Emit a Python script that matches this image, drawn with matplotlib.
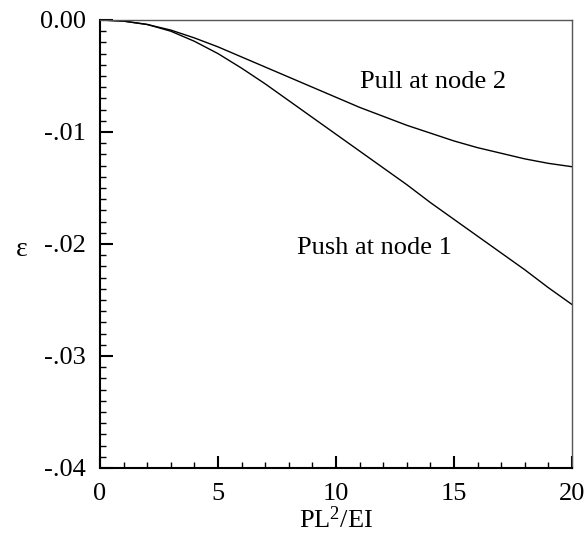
#!/usr/bin/env python3
# strain vs. load parameter for the two loading cases

import matplotlib.pyplot as plt
from matplotlib.ticker import MultipleLocator, FixedLocator

plt.rcParams['font.family'] = ['Liberation Serif', 'DejaVu Serif']
plt.rcParams['mathtext.fontset'] = 'custom'
plt.rcParams['mathtext.rm'] = 'Liberation Serif'
plt.rcParams['mathtext.default'] = 'regular'

load = [0, 1, 2, 3, 4, 5, 6, 7, 8, 9, 10, 11, 12, 13, 14, 15, 16, 17, 18, 19, 20]
pull_node2 = [0, -0.0001, -0.0004, -0.0009, -0.0016, -0.0024, -0.0033, -0.0042,
              -0.0051, -0.0060, -0.0069, -0.0078, -0.0086, -0.0094, -0.0101,
              -0.0108, -0.0114, -0.0119, -0.0124, -0.0128, -0.0131]
push_node1 = [0, -0.0001, -0.0004, -0.0010, -0.0019, -0.0030, -0.0043, -0.0057,
              -0.0072, -0.0087, -0.0102, -0.0117, -0.0132, -0.0147, -0.0163,
              -0.0178, -0.0193, -0.0208, -0.0223, -0.0239, -0.0254]

yticks = [0.0, -0.01, -0.02, -0.03, -0.04]
ytick_labels = ['0.00', '-.01', '-.02', '-.03', '-.04']

FS = 19

fig = plt.figure(figsize=(5.86, 5.46), dpi=100)
ax = fig.add_axes([0.1706, 0.1429, 0.8054, 0.8205])

ax.plot(load, pull_node2, color='black', lw=1.0)
ax.plot(load, push_node1, color='black', lw=1.0)

ax.text(14.1, -0.0055, 'Pull at node 2', fontsize=FS, ha='center', va='center')
ax.text(11.65, -0.0204, 'Push at node 1', fontsize=FS, ha='center', va='center')

ax.set_xlim(0, 20)
ax.set_ylim(-0.04, 0)
ax.set_xticks([0, 5, 10, 15, 20])
ax.xaxis.set_minor_locator(MultipleLocator(1))
ax.yaxis.set_major_locator(FixedLocator(yticks))
ax.set_yticklabels(ytick_labels)
ax.yaxis.set_minor_locator(MultipleLocator(0.001))

ax.tick_params(which='both', direction='in', top=False, right=False, labelsize=FS)
ax.tick_params(which='major', length=9, width=1.5)
ax.tick_params(which='minor', length=4.5, width=1.0)
ax.tick_params(axis='x', pad=11)
ax.tick_params(axis='y', pad=10)

for side in ['left', 'bottom']:
    ax.spines[side].set_linewidth(1.5)
for side in ['top', 'right']:
    ax.spines[side].set_linewidth(1.0)
    ax.spines[side].set_color('#555555')

ax.set_xlabel('PL$^{2}$/EI', fontsize=FS, va='center')
ax.xaxis.set_label_coords(0.5, -0.116)
ax.set_ylabel('ε', fontsize=20, rotation=0, va='center', ha='center')
ax.yaxis.set_label_coords(-0.165, 0.487)

fig.savefig('out.png', dpi=100)
